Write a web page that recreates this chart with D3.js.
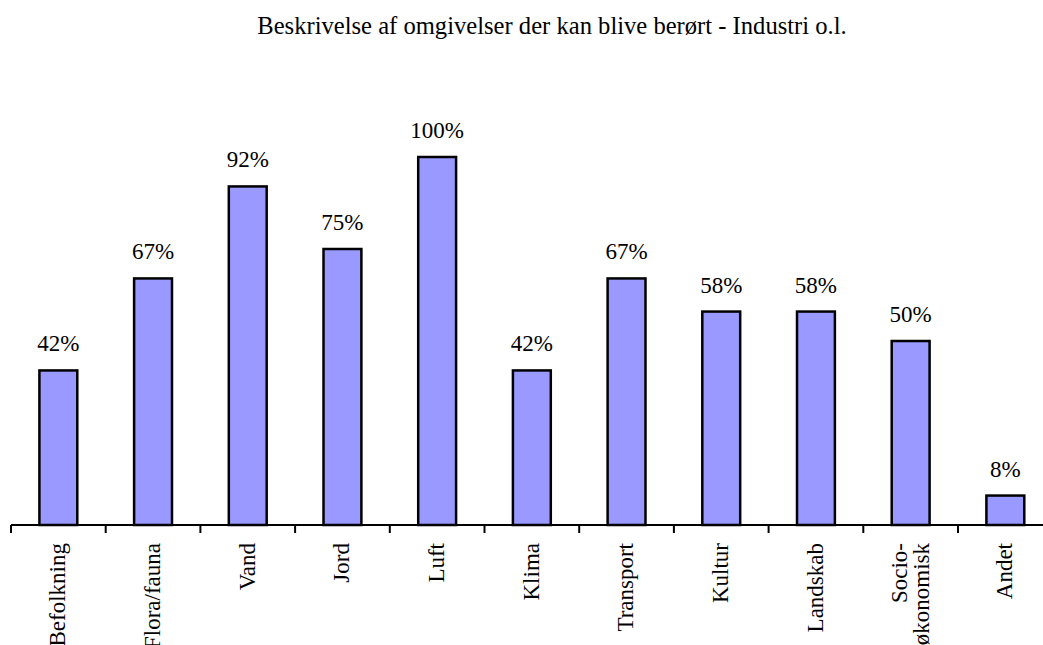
<!DOCTYPE html>
<html>
<head>
<meta charset="utf-8">
<script src="https://cdn.jsdelivr.net/npm/d3@7"></script>
<style>
  html, body { margin: 0; padding: 0; background: #fff; }
  svg { display: block; }
</style>
</head>
<body>
<svg id="chart" width="1043" height="645"></svg>
<script>
// Share of projects where each environmental aspect is described (industry)
const categories = ["Befolkning", "Flora/fauna", "Vand", "Jord", "Luft", "Klima",
  "Transport", "Kultur", "Landskab", "Socio-\nøkonomisk", "Andet"];
const values = [42, 67, 92, 75, 100, 42, 67, 58, 58, 50, 8];
const title = "Beskrivelse af omgivelser der kan blive berørt - Industri o.l.";

const FONT = "Liberation Serif, Times New Roman, serif";
const svg = d3.select("#chart").attr("font-family", FONT);
const axisLeft = 11, step = 94.7;
const baseY = 525, topY = 157;

const x = d3.scaleBand()
  .domain(categories)
  .range([axisLeft, axisLeft + step * categories.length])
  .paddingInner(0.6).paddingOuter(0.3);

const y = d3.scaleLinear().domain([0, 100]).range([baseY, topY]);

svg.append("text")
  .attr("x", 552).attr("y", 34)
  .attr("text-anchor", "middle")
  .attr("font-family", FONT)
  .attr("font-size", 24.6)
  .text(title);

// bars
svg.selectAll("rect.bar").data(values).join("rect")
  .attr("class", "bar")
  .attr("x", (d, i) => x(categories[i]))
  .attr("y", d => y(d))
  .attr("width", x.bandwidth())
  .attr("height", d => baseY - y(d))
  .attr("fill", "#9999ff")
  .attr("stroke", "#000")
  .attr("stroke-width", 2.5);

// value labels
svg.selectAll("text.val").data(values).join("text")
  .attr("class", "val")
  .attr("x", (d, i) => x(categories[i]) + x.bandwidth() / 2)
  .attr("y", d => y(d) - 19)
  .attr("text-anchor", "middle")
  .attr("font-family", FONT)
  .attr("font-size", 23)
  .text(d => d + "%");

// category axis with ticks between bars
const ticks = d3.range(categories.length + 1).map(i => axisLeft + i * step);
const ax = svg.append("g");
ax.append("line")
  .attr("x1", axisLeft).attr("x2", axisLeft + step * categories.length)
  .attr("y1", baseY).attr("y2", baseY)
  .attr("stroke", "#000").attr("stroke-width", 2);
ax.selectAll("line.tick").data(ticks).join("line")
  .attr("class", "tick")
  .attr("x1", d => d).attr("x2", d => d)
  .attr("y1", baseY).attr("y2", baseY + 8)
  .attr("stroke", "#000").attr("stroke-width", 2);

// rotated category labels
const lab = ax.selectAll("g.lab").data(categories).join("g")
  .attr("class", "lab")
  .attr("transform", d => `translate(${x(d) + x.bandwidth() / 2},543) rotate(-90)`);
lab.each(function(d) {
  const lines = d.split("\n");
  const g = d3.select(this);
  const lh = 22;
  lines.forEach((t, j) => {
    g.append("text")
      .attr("x", 0)
      .attr("y", (j - (lines.length - 1) / 2) * lh)
      .attr("dy", "0.3em")
      .attr("text-anchor", "end")
      .attr("font-family", FONT)
      .attr("font-size", 23)
      .text(t);
  });
});
</script>
</body>
</html>
